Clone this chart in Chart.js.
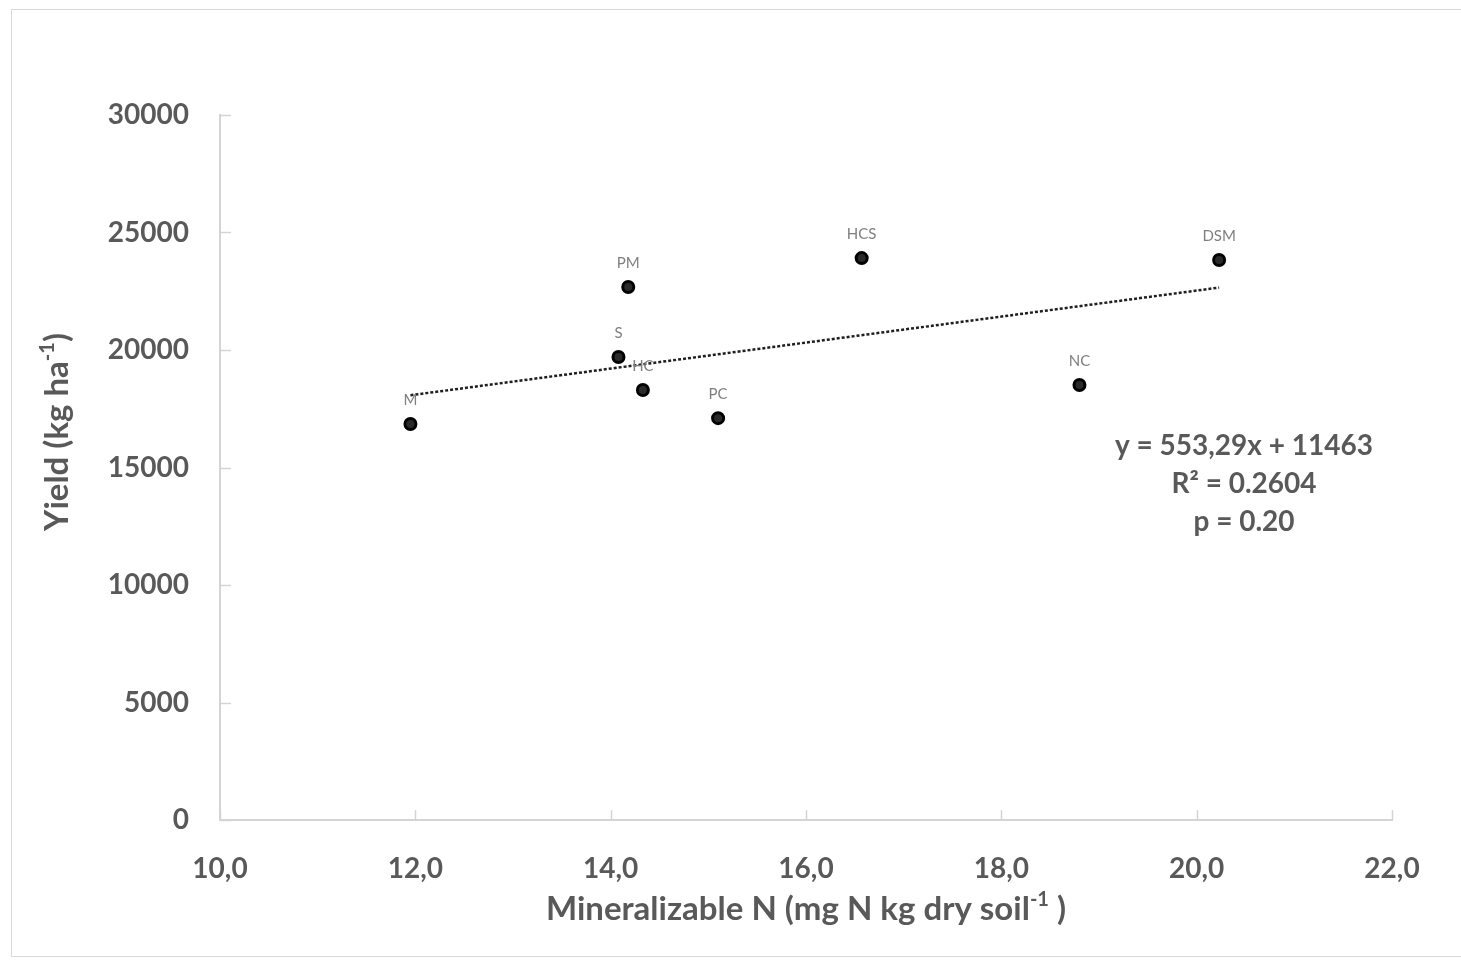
<!DOCTYPE html>
<html>
<head>
<meta charset="utf-8">
<title>Yield vs mineralizable N</title>
<script src="https://cdn.jsdelivr.net/npm/chart.js@4.4.1/dist/chart.umd.min.js"></script>
<style>
  html, body { margin: 0; padding: 0; background: #fff; }
  #wrap { position: relative; width: 1461px; height: 963px; overflow: hidden; }
  #frame { position: absolute; left: 11px; top: 9px; width: 1470px; height: 948px;
           border: 1px solid #d9d9d9; box-sizing: border-box; }
  #chart { position: absolute; left: 0; top: 0; }
</style>
</head>
<body>
<div id="wrap">
  <div id="frame"></div>
  <canvas id="chart" width="1461" height="963"></canvas>
</div>
<script>
// Treatments, mineralizable N (mg N kg dry soil-1) and yield (kg ha-1)
const treatments = ["M", "S", "PM", "HC", "PC", "HCS", "NC", "DSM"];
const minN       = [11.95, 14.08, 14.18, 14.33, 15.10, 16.57, 18.80, 20.23];
const yieldKg    = [16850, 19700, 22680, 18300, 17100, 23910, 18510, 23830];

// Axis ranges / ticks
const xRange = [10, 22];
const xStep  = 2;
const yRange = [0, 30000];
const yStep  = 5000;

// Linear fit reported on the chart
const slope = 553.29;
const intercept = 11463;
const eqLines = ["y = 553,29x + 11463", "R\u00B2 = 0.2604", "p = 0.20"];

const FONT = "Lato, 'Open Sans', sans-serif";
const GREY = "#595959";
const AXIS = "#d4d4d4";

const points = minN.map((x, i) => ({ x: x, y: yieldKg[i] }));
const xMin = Math.min(...minN), xMax = Math.max(...minN);
const trend = [xMin, xMax].map(x => ({ x: x, y: slope * x + intercept }));

// text with a raised "-1" part: [ [text, sup], ... ]
function drawRich(ctx, parts, x, y, size, rotate) {
  const big = "bold " + size + "px " + FONT;
  const small = "bold " + Math.round(size * 0.6) + "px " + FONT;
  let total = 0;
  parts.forEach(p => { ctx.font = p[1] ? small : big; total += ctx.measureText(p[0]).width; });
  ctx.save();
  ctx.translate(x, y);
  if (rotate) ctx.rotate(-Math.PI / 2);
  ctx.textBaseline = "middle";
  ctx.textAlign = "left";
  let cx = -total / 2;
  parts.forEach(p => {
    ctx.font = p[1] ? small : big;
    ctx.fillText(p[0], cx, p[1] ? -size * 0.3 : 0);
    cx += ctx.measureText(p[0]).width;
  });
  ctx.restore();
}

const extras = {
  id: "extras",
  afterDraw(chart) {
    const ctx = chart.ctx;
    const xs = chart.scales.x, ys = chart.scales.y;
    const area = chart.chartArea;

    // tick marks pointing into the plot
    ctx.save();
    ctx.strokeStyle = AXIS;
    ctx.lineWidth = 1.5;
    xs.ticks.forEach(t => {
      const px = Math.round(xs.getPixelForValue(t.value)) + 0.5;
      ctx.beginPath(); ctx.moveTo(px, area.bottom); ctx.lineTo(px, area.bottom - 10); ctx.stroke();
    });
    ys.ticks.forEach(t => {
      const py = Math.round(ys.getPixelForValue(t.value)) + 0.5;
      ctx.beginPath(); ctx.moveTo(area.left, py); ctx.lineTo(area.left + 11, py); ctx.stroke();
    });
    ctx.restore();

    // treatment labels above each point
    const meta = chart.getDatasetMeta(0);
    ctx.save();
    ctx.font = "15px " + FONT;
    ctx.fillStyle = "#7f7f7f";
    ctx.textAlign = "center";
    ctx.textBaseline = "middle";
    meta.data.forEach((el, i) => ctx.fillText(treatments[i], el.x, el.y - 24));
    ctx.restore();

    // axis titles
    ctx.save();
    ctx.fillStyle = GREY;
    drawRich(ctx, [["Mineralizable N (mg N kg dry soil", false], ["-1", true], [" )", false]],
             (area.left + area.right) / 2, 909, 33, false);
    drawRich(ctx, [["Yield (kg ha", false], ["-1", true], [")", false]], 57, 432, 33, true);

    // regression equation
    ctx.font = "bold 28px " + FONT;
    ctx.textAlign = "center";
    ctx.textBaseline = "middle";
    eqLines.forEach((s, i) => ctx.fillText(s, 1244, 446 + i * 38));
    ctx.restore();
  }
};

new Chart(document.getElementById("chart").getContext("2d"), {
  type: "scatter",
  data: {
    datasets: [
      {
        label: "Yield",
        data: points,
        pointRadius: 5.5,
        pointHoverRadius: 5.5,
        pointBackgroundColor: "#2a2a2a",
        pointBorderColor: "#000",
        pointBorderWidth: 3,
        order: 1
      },
      {
        type: "line",
        label: "Linear fit",
        data: trend,
        borderColor: "#1f1f1f",
        borderWidth: 2.5,
        borderDash: [3, 2],
        pointRadius: 0,
        fill: false,
        order: 2
      }
    ]
  },
  plugins: [extras],
  options: {
    responsive: false,
    animation: false,
    layout: { padding: { left: 0, top: 115, right: 69, bottom: 0 } },
    plugins: { legend: { display: false }, tooltip: { enabled: false } },
    scales: {
      x: {
        type: "linear",
        min: xRange[0], max: xRange[1],
        afterFit: s => { s.height = 143; },
        grid: { display: false },
        border: { color: AXIS, width: 2 },
        ticks: {
          stepSize: xStep,
          padding: 24,
          color: GREY,
          font: { family: FONT, size: 28, weight: "bold" },
          callback: v => v.toFixed(1).replace(".", ",")
        }
      },
      y: {
        min: yRange[0], max: yRange[1],
        afterFit: s => { s.width = 220; },
        grid: { display: false },
        border: { color: AXIS, width: 2 },
        ticks: {
          stepSize: yStep,
          padding: 23,
          color: GREY,
          font: { family: FONT, size: 28, weight: "bold" },
          callback: v => String(v)
        }
      }
    }
  }
});
</script>
</body>
</html>
